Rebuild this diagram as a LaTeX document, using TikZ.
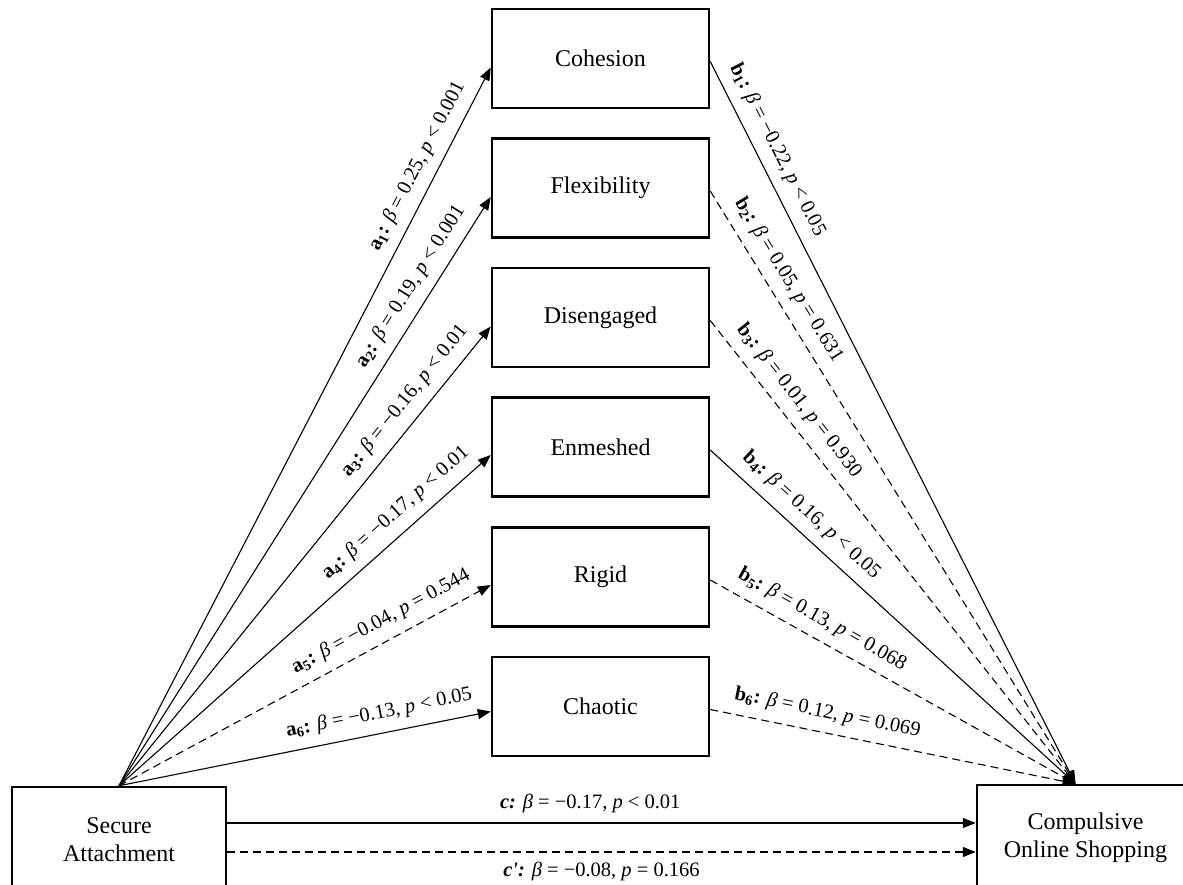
\documentclass[tikz,border=0pt]{standalone}
\usepackage{fontspec}
\setmainfont{Liberation Serif}
\usetikzlibrary{arrows.meta}
\tikzset{
  box/.style={draw, line width=2.5pt, minimum width=217pt, minimum height=99pt,
    inner sep=0pt, font=\fontsize{24}{28}\selectfont, align=center},
  conn/.style={line width=1.1pt, -{Triangle[length=13pt,width=10pt]}},
  dsh/.style={dash pattern=on 8pt off 5pt},
  lab/.style={font=\fontsize{20.5}{24}\selectfont, sloped, above=10pt, inner sep=0pt},
  labb/.style={font=\fontsize{20.5}{24}\selectfont, below=10pt, inner sep=0pt},
}
\newcommand\pathlab[4]{\textbf{#1\textsubscript{#2}:} \textit{β} = #3, \textit{p} #4}
\begin{document}
\begin{tikzpicture}[x=1pt,y=-1pt]
\useasboundingbox (0,0) rectangle (1183,885);
\clip (0,0) rectangle (1183,885);
% mediators
\node[box] (m1) at (600.5,58.5) {Cohesion};
\node[box] (m2) at (600.5,188) {Flexibility};
\node[box] (m3) at (600.5,317.5) {Disengaged};
\node[box] (m4) at (600.5,447) {Enmeshed};
\node[box] (m5) at (600.5,577) {Rigid};
\node[box] (m6) at (600.5,706.5) {Chaotic};
% ends
\node[box, minimum width=214pt, minimum height=106pt] (sec) at (119,840) {Secure\\Attachment};
\node[box, minimum width=217pt, minimum height=106pt] (comp) at (1085.5,838) {Compulsive\\Online Shopping};
\coordinate (bt) at ([xshift=-10pt]comp.north);
% a paths
\draw[conn] (sec.north) -- node[lab, pos=0.85] {\pathlab{a}{1}{0.25}{< 0.001}} ([yshift=-9pt]m1.west);
\draw[conn] (sec.north) -- node[lab, pos=0.83] {\pathlab{a}{2}{0.19}{< 0.001}} ([yshift=-9pt]m2.west);
\draw[conn] (sec.north) -- node[lab, pos=0.81] {\pathlab{a}{3}{−0.16}{< 0.01}} ([yshift=-9pt]m3.west);
\draw[conn] (sec.north) -- node[lab, pos=0.78] {\pathlab{a}{4}{−0.17}{< 0.01}} ([yshift=-8pt]m4.west);
\draw[conn, dsh] (sec.north) -- node[lab, pos=0.73] {\pathlab{a}{5}{−0.04}{= 0.544}} ([yshift=-8pt]m5.west);
\draw[conn] (sec.north) -- node[lab, pos=0.71] {\pathlab{a}{6}{−0.13}{< 0.05}} ([yshift=-5pt]m6.west);
% b paths
\draw[conn] ([yshift=-3pt]m1.east) -- node[lab, pos=0.135] {\pathlab{b}{1}{−0.22}{< 0.05}} (bt);
\draw[conn, dsh] ([yshift=-3pt]m2.east) -- node[lab, pos=0.168] {\pathlab{b}{2}{0.05}{= 0.631}} (bt);
\draw[conn, dsh] ([yshift=-3pt]m3.east) -- node[lab, pos=0.2] {\pathlab{b}{3}{0.01}{= 0.930}} (bt);
\draw[conn] ([yshift=-3pt]m4.east) -- node[lab, pos=0.24] {\pathlab{b}{4}{0.16}{< 0.05}} (bt);
\draw[conn, dsh] ([yshift=-3pt]m5.east) -- node[lab, pos=0.28] {\pathlab{b}{5}{0.13}{= 0.068}} (bt);
\draw[conn, dsh] ([yshift=-3pt]m6.east) -- node[lab, pos=0.31] {\pathlab{b}{6}{0.12}{= 0.069}} (bt);
% c paths
\path (sec.east) ++(0,-17) coordinate (cs);
\path (sec.east) ++(0,12) coordinate (cds);
\draw[conn] (cs) -- node[lab, pos=0.485] {\textbf{\textit{c:}} \textit{β} = −0.17, \textit{p} < 0.01} (cs -| comp.west);
\draw[conn, dsh] (cds) -- node[labb] {\textbf{\textit{c\textquotesingle:}} \textit{β} = −0.08, \textit{p} = 0.166} (cds -| comp.west);
\end{tikzpicture}
\end{document}
